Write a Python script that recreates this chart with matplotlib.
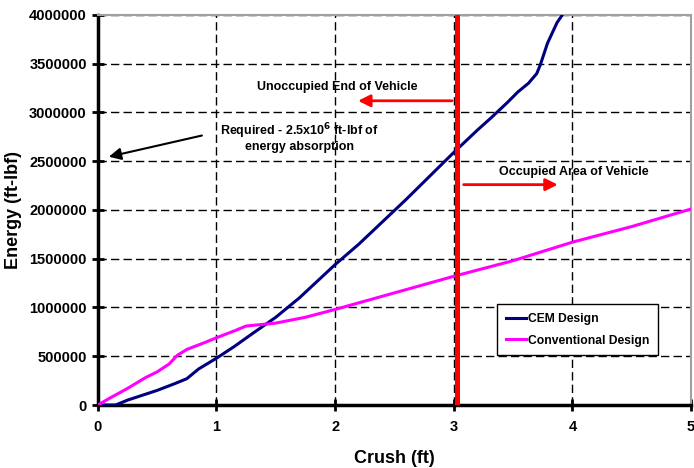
import matplotlib
matplotlib.use("Agg")
import matplotlib.pyplot as plt

# dados
cem_x = [0.0, 0.15, 0.25, 0.4, 0.5, 0.65, 0.75, 0.85, 1.0, 1.15, 1.3, 1.5, 1.7, 1.85, 2.0,
         2.2, 2.4, 2.6, 2.8, 3.0, 3.2, 3.31, 3.45, 3.54, 3.63, 3.7, 3.73, 3.79, 3.87, 3.92]
cem_y = [0, 0, 50000, 110000, 150000, 220000, 270000, 370000, 480000, 600000, 730000,
         900000, 1100000, 1270000, 1440000, 1650000, 1880000, 2110000, 2350000, 2590000,
         2820000, 2940000, 3100000, 3210000, 3300000, 3400000, 3490000, 3710000, 3920000, 4010000]
conv_x = [0.0, 0.1, 0.25, 0.4, 0.5, 0.6, 0.67, 0.75, 0.9, 1.0, 1.15, 1.25, 1.5, 1.75, 2.0,
          2.5, 3.0, 3.5, 4.0, 4.5, 5.0]
conv_y = [0, 70000, 170000, 280000, 340000, 420000, 510000, 570000, 640000, 690000, 760000,
          810000, 840000, 900000, 980000, 1150000, 1320000, 1480000, 1670000, 1830000, 2010000]
x_ticks = [0, 1, 2, 3, 4, 5]
y_ticks = [0, 500000, 1000000, 1500000, 2000000, 2500000, 3000000, 3500000, 4000000]
limite = 3.03
requerido = 2500000

plt.rcParams['font.family'] = ['Liberation Sans', 'DejaVu Sans']
plt.rcParams['font.weight'] = 'bold'
plt.rcParams['mathtext.default'] = 'bf'

fig = plt.figure(figsize=(6.94, 4.68), dpi=100)
ax = fig.add_axes([0.141, 0.1346, 0.8547, 0.8334])

ax.plot(cem_x, cem_y, color='#000080', lw=2.2, label='CEM Design', zorder=3)
ax.plot(conv_x, conv_y, color='#ff00ff', lw=2.2, label='Conventional Design', zorder=3)
ax.axvline(limite, color='#ff0000', lw=3.6, zorder=4)

ax.set_xlim(0, 5)
ax.set_ylim(0, 4000000)
ax.set_xticks(x_ticks)
ax.set_yticks(y_ticks)
ax.set_yticklabels([str(v) for v in y_ticks])
ax.tick_params(direction='inout', length=8, width=2, labelsize=10.5, pad=4)
ax.tick_params(axis='x', pad=7)
for lab in ax.get_xticklabels() + ax.get_yticklabels():
    lab.set_fontweight('bold')
ax.grid(True, color='black', ls=(0, (6, 3)), lw=1)

ax.spines['left'].set_linewidth(2.5)
ax.spines['bottom'].set_linewidth(2.5)
ax.spines['top'].set_color('#a0a0a0')
ax.spines['right'].set_color('#a0a0a0')
ax.spines['top'].set_linewidth(1.5)
ax.spines['right'].set_linewidth(1.5)

ax.set_xlabel('Crush (ft)', fontsize=13, fontweight='bold', labelpad=11)
ax.set_ylabel('Energy (ft-lbf)', fontsize=13, fontweight='bold', labelpad=5)

# textos e setas
ax.text(2.02, 3260000, 'Unoccupied End of Vehicle', fontsize=9, fontweight='bold', ha='center', va='center')
ax.annotate('', xy=(2.17, 3120000), xytext=(3.01, 3120000),
            arrowprops=dict(arrowstyle='-|>', color='#ff0000', lw=2, mutation_scale=18))
ax.text(4.01, 2390000, 'Occupied Area of Vehicle', fontsize=9, fontweight='bold', ha='center', va='center')
ax.annotate('', xy=(3.9, 2260000), xytext=(3.06, 2260000),
            arrowprops=dict(arrowstyle='-|>', color='#ff0000', lw=2, mutation_scale=18))
ax.text(1.70, 2810000, r'Required - 2.5x10$^{6}$ ft-lbf of', fontsize=9, fontweight='bold',
        ha='center', va='center')
ax.text(1.70, 2650000, 'energy absorption', fontsize=9, fontweight='bold', ha='center', va='center')
ax.annotate('', xy=(0.07, requerido + 40000), xytext=(0.9, 2770000),
            arrowprops=dict(arrowstyle='-|>', color='black', lw=1.5, mutation_scale=18))

leg = ax.legend(loc='lower left', bbox_to_anchor=(0.673, 0.128), fontsize=8.7, frameon=True,
                fancybox=False, edgecolor='black', framealpha=1, handlelength=1.7,
                borderpad=0.7, labelspacing=0.8, handletextpad=0.2, borderaxespad=0)
leg.get_frame().set_linewidth(1)
for t in leg.get_texts():
    t.set_fontweight('bold')

fig.savefig('out.png', dpi=100)
